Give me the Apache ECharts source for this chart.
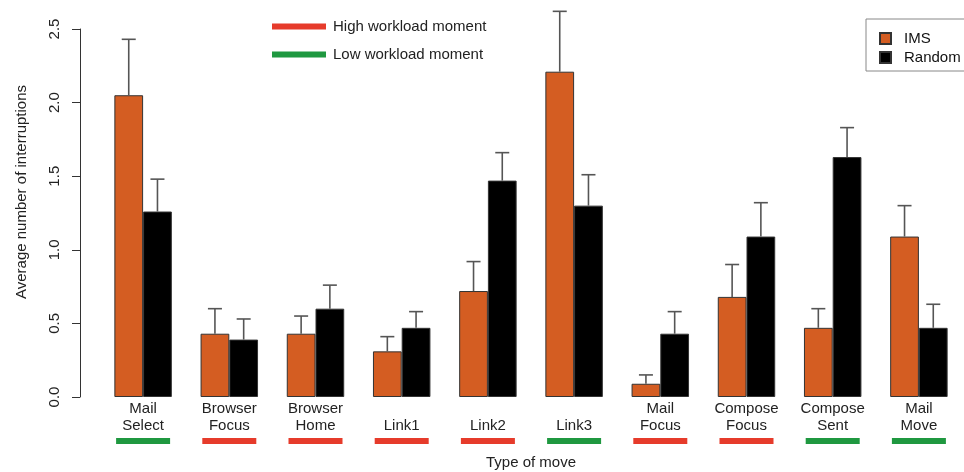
<!DOCTYPE html>
<html>
<head>
<meta charset="utf-8">
<script src="https://cdn.jsdelivr.net/npm/echarts@6/dist/echarts.min.js"></script>
<style>
html,body{margin:0;padding:0;background:#fff;}
#chart{width:964px;height:472px;}
</style>
</head>
<body>
<div id="chart"></div>
<script>
// ---- data ----
const categories = ['Mail\nSelect', 'Browser\nFocus', 'Browser\nHome', 'Link1', 'Link2', 'Link3', 'Mail\nFocus', 'Compose\nFocus', 'Compose\nSent', 'Mail\nMove'];
const imsMean     = [2.05, 0.43, 0.43, 0.31, 0.72, 2.21, 0.09, 0.68, 0.47, 1.09];
const imsUpper    = [2.43, 0.60, 0.55, 0.41, 0.92, 2.62, 0.15, 0.90, 0.60, 1.30];
const randomMean  = [1.26, 0.39, 0.60, 0.47, 1.47, 1.30, 0.43, 1.09, 1.63, 0.47];
const randomUpper = [1.48, 0.53, 0.76, 0.58, 1.66, 1.51, 0.58, 1.32, 1.83, 0.63];
const workload    = ['Low', 'High', 'High', 'High', 'High', 'Low', 'High', 'High', 'Low', 'Low'];
const yTicks      = [0, 0.5, 1.0, 1.5, 2.0, 2.5];

const ORANGE = '#d45d22';
const RED = '#e63b2b';
const GREEN = '#1f9840';
const FONT = '"Liberation Sans", Arial, Helvetica, sans-serif';

const chart = echarts.init(document.getElementById('chart'), null, {renderer: 'canvas'});

const CAT_GAP = 1 / 3; // R barplot space: one bar width between groups

function errorRenderer(values, side) {
  return function (params, api) {
    const i = api.value(0);
    const mean = api.value(1);
    const upper = api.value(2);
    const band = api.size([1, 0])[0];
    const barW = band * (1 - CAT_GAP) / 2;
    const c = api.coord([i, mean]);
    const t = api.coord([i, upper]);
    const x = c[0] + side * barW / 2;
    const half = 7;
    const style = {stroke: '#555', lineWidth: 1.6};
    return {
      type: 'group',
      children: [
        {type: 'line', shape: {x1: x, y1: c[1], x2: x, y2: t[1]}, style: style},
        {type: 'line', shape: {x1: x - half, y1: t[1], x2: x + half, y2: t[1]}, style: style}
      ]
    };
  };
}

const option = {
  animation: false,
  backgroundColor: '#fff',
  textStyle: {fontFamily: FONT},
  grid: {left: 100, right: 2, top: 29, bottom: 75, containLabel: false, outerBoundsMode: 'none'},
  legend: [
    {
      data: ['High workload moment', 'Low workload moment'],
      orient: 'vertical',
      left: 267, top: 14,
      icon: 'rect',
      itemWidth: 54, itemHeight: 6, itemGap: 13,
      textStyle: {fontSize: 15, color: '#222', fontFamily: FONT, padding: [0, 0, 0, 2]},
      selectedMode: false
    },
    {
      data: ['IMS', 'Random'],
      orient: 'vertical',
      left: 866, top: 19,
      borderColor: '#888', borderWidth: 1,
      padding: [12, 30, 6, 13],
      icon: 'rect',
      itemWidth: 11, itemHeight: 11, itemGap: 4,
      textStyle: {fontSize: 15, color: '#111', fontFamily: FONT, padding: [0, 0, 0, 8]},
      selectedMode: false
    }
  ],
  xAxis: {
    type: 'category',
    data: categories,
    axisLine: {show: false},
    axisTick: {show: false},
    splitLine: {show: false},
    name: 'Type of move',
    nameLocation: 'middle',
    nameGap: 58,
    nameTextStyle: {fontSize: 15, color: '#222', fontFamily: FONT},
    axisLabel: {
      interval: 0,
      margin: 3,
      formatter: function (val, idx) {
        const parts = val.split('\n');
        const lines = parts.length === 1 ? [' ', parts[0]] : parts;
        const tag = workload[idx] === 'High' ? 'hi' : 'lo';
        return '{t|' + lines[0] + '}\n{t|' + lines[1] + '}\n{' + tag + '| }';
      },
      rich: {
        t: {fontSize: 15, lineHeight: 17, color: '#222', fontFamily: FONT},
        hi: {backgroundColor: RED, width: 54, height: 6, lineHeight: 14, fontSize: 4},
        lo: {backgroundColor: GREEN, width: 54, height: 6, lineHeight: 14, fontSize: 4}
      }
    }
  },
  yAxis: {
    type: 'value',
    min: 0, max: 2.5, interval: 0.5,
    offset: 20,
    axisLine: {show: true, lineStyle: {color: '#333', width: 1}},
    axisTick: {show: true, length: 8, lineStyle: {color: '#333'}},
    splitLine: {show: false},
    axisLabel: {
      rotate: 90,
      margin: 18,
      fontSize: 15,
      color: '#222',
      fontFamily: FONT,
      formatter: function (v) { return yTicks.indexOf(v) >= 0 ? v.toFixed(1) : ''; }
    }
  },
  graphic: [
    {
      type: 'text',
      x: 22, y: 192,
      rotation: Math.PI / 2,
      style: {
        text: 'Average number of interruptions',
        fontSize: 15, fill: '#222', fontFamily: FONT,
        align: 'center', verticalAlign: 'middle'
      }
    }
  ],
  series: [
    {
      name: 'IMS', type: 'bar',
      data: imsMean,
      barGap: '0%', barCategoryGap: (CAT_GAP * 100) + '%',
      itemStyle: {color: ORANGE, borderColor: '#333', borderWidth: 1}
    },
    {
      name: 'Random', type: 'bar',
      data: randomMean,
      barGap: '0%', barCategoryGap: (CAT_GAP * 100) + '%',
      itemStyle: {color: '#000', borderColor: '#333', borderWidth: 1}
    },
    {
      name: 'IMS error', type: 'custom',
      clip: false, z: 5,
      renderItem: errorRenderer(imsUpper, -1),
      data: imsMean.map((m, i) => [i, m, imsUpper[i]]),
      encode: {x: 0, y: 1}
    },
    {
      name: 'Random error', type: 'custom',
      clip: false, z: 5,
      renderItem: errorRenderer(randomUpper, 1),
      data: randomMean.map((m, i) => [i, m, randomUpper[i]]),
      encode: {x: 0, y: 1}
    },
    {name: 'High workload moment', type: 'line', data: [], itemStyle: {color: RED}, lineStyle: {color: RED}},
    {name: 'Low workload moment', type: 'line', data: [], itemStyle: {color: GREEN}, lineStyle: {color: GREEN}}
  ]
};

chart.setOption(option);
</script>
</body>
</html>
